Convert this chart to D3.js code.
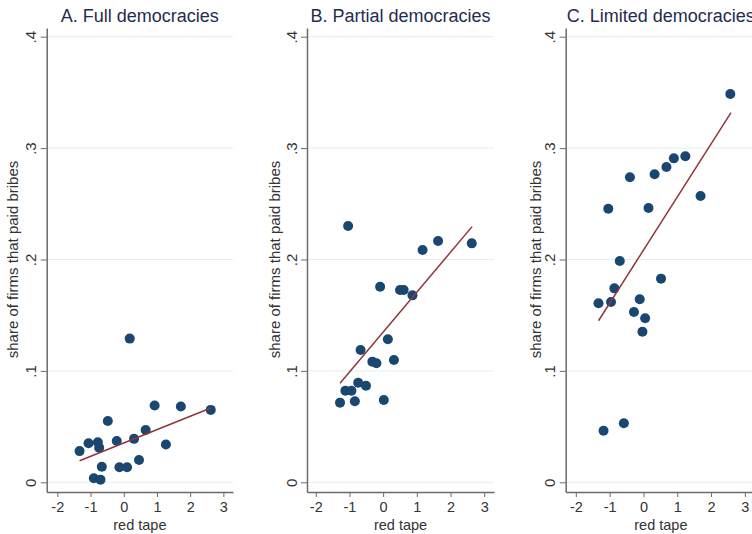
<!DOCTYPE html>
<html>
<head>
<meta charset="utf-8">
<script src="https://cdn.jsdelivr.net/npm/d3@7"></script>
<style>
  body { margin: 0; background: #fff; }
  svg { display: block; font-family: Arial, "Liberation Sans", sans-serif; }
</style>
</head>
<body>
<div id="chart"></div>
<script>
// Panel titles
const panelTitles = ['A. Full democracies', 'B. Partial democracies', 'C. Limited democracies'];

// Red tape (x) and share of firms that paid bribes (y)
const fullX = [0.18, 0.93, 1.72, 2.62, -0.48, 0.66, -1.33, -1.06, -0.78, -0.74, -0.21, 0.31, 1.27, -0.66, -0.13, 0.10, 0.46, -0.90, -0.70];
const fullY = [0.129, 0.069, 0.068, 0.065, 0.055, 0.047, 0.028, 0.035, 0.036, 0.031, 0.037, 0.039, 0.034, 0.014, 0.0135, 0.0135, 0.020, 0.0036, 0.0024];

const partialX = [-1.04, 1.17, 1.63, 2.63, -0.09, 0.50, 0.61, 0.87, 0.14, -0.67, -0.32, -0.20, 0.32, -0.74, -0.51, -1.12, -0.94, -1.28, -0.84, 0.02];
const partialY = [0.230, 0.2085, 0.2166, 0.2145, 0.1756, 0.1726, 0.1726, 0.1678, 0.1284, 0.1188, 0.1083, 0.1068, 0.1098, 0.0894, 0.0867, 0.0822, 0.0822, 0.0715, 0.0727, 0.0739];

const limitedX = [2.57, 1.24, 0.90, 0.68, 0.33, -0.40, 1.69, -1.04, 0.15, -0.70, 0.52, -0.86, -1.33, -0.96, -0.11, -0.28, 0.05, -0.03, -1.18, -0.58];
const limitedY = [0.3486, 0.2926, 0.2908, 0.283, 0.2765, 0.2738, 0.257, 0.2456, 0.2462, 0.1987, 0.1828, 0.1741, 0.1607, 0.1618, 0.1643, 0.1529, 0.1472, 0.1352, 0.0463, 0.053];

// Fitted line end points [x0, y0, x1, y1]
const fullFit = [-1.33, 0.0194, 2.62, 0.0667];
const partialFit = [-1.28, 0.0889, 2.64, 0.2295];
const limitedFit = [-1.33, 0.145, 2.59, 0.3318];

const xTicks = [-2, -1, 0, 1, 2, 3];
const yTicks = [0, 0.1, 0.2, 0.3, 0.4];

const xTitle = 'red tape';
const yTitle = 'share of firms that paid bribes';

const W = 752, H = 534;
const DOT = '#1a476f', FIT = '#90353b', TITLE = '#1f2d50', INK = '#333', AXIS = '#6b6b6b', GRID = '#e4eef0';

// layout of each panel: plot-region edges in pixels and the x domain they span
const layout = [
    { left: 46.7, right: 233, xDom: [-2.32, 3.29], yTitleX: 18 },
    { left: 307, right: 494, xDom: [-2.26, 3.29], yTitleX: 280 },
    { left: 565.7, right: 756, xDom: [-2.30, 3.33], yTitleX: 541 }
];
const panelData = [
    { xs: fullX, ys: fullY, fit: fullFit },
    { xs: partialX, ys: partialY, fit: partialFit },
    { xs: limitedX, ys: limitedY, fit: limitedFit }
];
const TOP = 28, BOTTOM = 492;

const svg = d3.select('#chart').append('svg')
    .attr('width', W)
    .attr('height', H);
svg.append('rect').attr('width', W).attr('height', H).attr('fill', '#fff');

const yScale = d3.scaleLinear()
    .domain([-0.0087, 0.4078])
    .range([BOTTOM, TOP]);

const fmtY = d => d === 0 ? '0' : d3.format('.1f')(d).replace(/^0/, '');

panelTitles.forEach((title, i) => {
    const L = layout[i];
    const D = panelData[i];
    const g = svg.append('g');

    const xScale = d3.scaleLinear()
        .domain(L.xDom)
        .range([L.left, L.right]);

    // gridlines
    g.append('g')
        .selectAll('line')
        .data(yTicks)
        .join('line')
            .attr('x1', L.left)
            .attr('x2', L.right)
            .attr('y1', d => yScale(d))
            .attr('y2', d => yScale(d))
            .attr('stroke', GRID)
            .attr('stroke-width', 1);

    // y axis
    const yAxis = g.append('g')
        .attr('transform', `translate(${L.left},0)`)
        .call(d3.axisLeft(yScale).tickValues(yTicks).tickFormat(fmtY).tickSize(6).tickSizeOuter(0));
    yAxis.select('.domain').attr('stroke', AXIS).attr('stroke-width', 1.5);
    yAxis.selectAll('.tick line').attr('stroke', AXIS);
    yAxis.selectAll('.tick text')
        .attr('x', 0)
        .attr('y', -10.5)
        .attr('dy', 0)
        .attr('transform', 'rotate(-90)')
        .style('text-anchor', 'middle')
        .attr('fill', INK)
        .attr('font-size', 15);

    // x axis
    const xAxis = g.append('g')
        .attr('transform', `translate(0,${BOTTOM})`)
        .call(d3.axisBottom(xScale).tickValues(xTicks).tickFormat(d3.format('d')).tickSize(5).tickSizeOuter(0).tickPadding(5));
    xAxis.select('.domain').attr('stroke', AXIS).attr('stroke-width', 1.5);
    xAxis.selectAll('.tick line').attr('stroke', AXIS);
    xAxis.selectAll('.tick text')
        .attr('fill', INK)
        .attr('font-size', 14.5)
        .text(d => d < 0 ? '-' + Math.abs(d) : d);

    // axis titles
    g.append('text')
        .attr('x', (L.left + L.right) / 2)
        .attr('y', 529.5)
        .attr('fill', INK)
        .attr('font-size', 14.5)
        .style('text-anchor', 'middle')
        .text(xTitle);

    g.append('text')
        .attr('transform', `translate(${L.yTitleX},${(yScale(0) + yScale(0.4)) / 2}) rotate(-90)`)
        .attr('fill', INK)
        .attr('font-size', 15)
        .style('text-anchor', 'middle')
        .text(yTitle);

    // panel title
    g.append('text')
        .attr('x', (L.left + L.right) / 2)
        .attr('y', 21.5)
        .attr('fill', TITLE)
        .attr('font-size', 18)
        .style('text-anchor', 'middle')
        .text(title);

    // points
    g.append('g')
        .selectAll('circle')
        .data(D.xs.map((x, j) => [x, D.ys[j]]))
        .join('circle')
            .attr('cx', d => xScale(d[0]))
            .attr('cy', d => yScale(d[1]))
            .attr('r', 5)
            .attr('fill', DOT);

    // fitted line
    g.append('line')
        .attr('x1', xScale(D.fit[0]))
        .attr('y1', yScale(D.fit[1]))
        .attr('x2', xScale(D.fit[2]))
        .attr('y2', yScale(D.fit[3]))
        .attr('stroke', FIT)
        .attr('stroke-width', 1.5);
});
</script>
</body>
</html>
